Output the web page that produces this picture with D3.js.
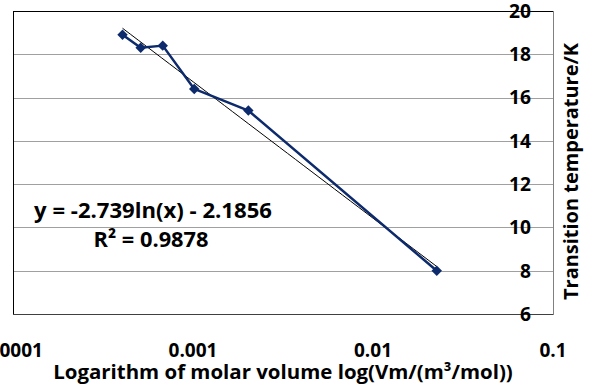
<!DOCTYPE html>
<html>
<head>
<meta charset="utf-8">
<script src="https://cdn.jsdelivr.net/npm/d3@7/dist/d3.min.js"></script>
<style>
  html, body { margin: 0; padding: 0; background: #fff; }
  svg { display: block; }
  text { font-family: "Open Sans", "Noto Sans", sans-serif; font-weight: 700; fill: #000; }
</style>
</head>
<body>
<svg id="chart" width="593" height="387"></svg>
<script>
// Molar volume (m^3/mol) and transition temperature (K)
const molarVolume = [0.000406, 0.000512, 0.000679, 0.001016, 0.00203, 0.0226];
const transitionTemp = [18.9, 18.3, 18.4, 16.4, 15.4, 8.0];

// Logarithmic fit: y = a ln(x) + b
const fitA = -2.739;
const fitB = -2.1856;
const fitR2 = 0.9878;

const xTicks = [0.0001, 0.001, 0.01, 0.1];
const xTickLabels = ["0.0001", "0.001", "0.01", "0.1"];
const yTicks = [6, 8, 10, 12, 14, 16, 18, 20];

const xTitle = "Logarithm of molar volume log(Vm/(m\u00B3/mol))";
const yTitle = "Transition temperature/K";

const svg = d3.select("#chart");
const plotL = 13, plotR = 553, plotT = 11, plotB = 314;

const x = d3.scaleLog().domain([0.0001, 0.1]).range([plotL, plotR]);
const y = d3.scaleLinear().domain([6, 20]).range([plotB, plotT]);

// Size a text so that it spans the given width
function fitSize(text, width) {
  const t = svg.append("text").attr("font-size", 20).text(text);
  const w = t.node().getComputedTextLength();
  t.remove();
  return 20 * width / w;
}

// Horizontal gridlines
svg.append("g")
  .selectAll("line")
  .data(yTicks.filter(v => v !== 6 && v !== 20))
  .join("line")
  .attr("x1", plotL).attr("x2", plotR)
  .attr("y1", d => Math.round(y(d)) + 0.5)
  .attr("y2", d => Math.round(y(d)) + 0.5)
  .attr("stroke", "#a0a0a0")
  .attr("stroke-width", 1);

// Plot frame
svg.append("line").attr("x1", plotL).attr("x2", plotR)
  .attr("y1", plotT + 0.5).attr("y2", plotT + 0.5).attr("stroke", "#000");
svg.append("line").attr("x1", plotL + 0.5).attr("x2", plotL + 0.5)
  .attr("y1", plotT).attr("y2", plotB).attr("stroke", "#000");
svg.append("line").attr("x1", plotL).attr("x2", plotR)
  .attr("y1", plotB + 0.5).attr("y2", plotB + 0.5).attr("stroke", "#404040");
svg.append("line").attr("x1", plotR + 0.5).attr("x2", plotR + 0.5)
  .attr("y1", plotT).attr("y2", plotB + 1).attr("stroke", "#808080");

// Right-hand value axis labels
const yTickSize = fitSize("20", 22);
svg.append("g")
  .selectAll("text")
  .data(yTicks)
  .join("text")
  .attr("x", 531)
  .attr("y", d => y(d))
  .attr("dy", "0.36em")
  .attr("text-anchor", "end")
  .attr("font-size", yTickSize)
  .text(d => d);

// Log-scale axis labels
const xTickSize = fitSize("0.001", 49);
svg.append("g")
  .selectAll("text")
  .data(xTicks)
  .join("text")
  .attr("x", d => x(d))
  .attr("y", 357)
  .attr("text-anchor", "middle")
  .attr("font-size", xTickSize)
  .text((d, i) => xTickLabels[i]);

// Axis titles
svg.append("text")
  .attr("x", 283).attr("y", 379)
  .attr("text-anchor", "middle")
  .attr("font-size", fitSize(xTitle, 460))
  .text(xTitle);

svg.append("text")
  .attr("transform", "translate(578,171.5) rotate(-90)")
  .attr("text-anchor", "middle")
  .attr("font-size", fitSize(yTitle, 257))
  .text(yTitle);

// Trendline across the data range
const xExtent = d3.extent(molarVolume);
const trendPts = d3.range(0, 41).map(i => {
  const lv = Math.log10(xExtent[0]) + (Math.log10(xExtent[1]) - Math.log10(xExtent[0])) * i / 40;
  const xv = Math.pow(10, lv);
  return [xv, fitA * Math.log(xv) + fitB];
});
svg.append("path")
  .datum(trendPts)
  .attr("fill", "none")
  .attr("stroke", "#000")
  .attr("stroke-width", 1)
  .attr("d", d3.line().x(d => x(d[0])).y(d => y(d[1])));

// Data series
const pts = molarVolume.map((v, i) => [v, transitionTemp[i]]);
const navy = "#0c2a6c";
svg.append("path")
  .datum(pts)
  .attr("fill", "none")
  .attr("stroke", navy)
  .attr("stroke-width", 2.5)
  .attr("stroke-linejoin", "round")
  .attr("d", d3.line().x(d => x(d[0])).y(d => y(d[1])));

svg.append("g")
  .selectAll("path")
  .data(pts)
  .join("path")
  .attr("transform", d => `translate(${x(d[0])},${y(d[1])})`)
  .attr("d", d3.symbol(d3.symbolDiamond2, 70)())
  .attr("fill", navy);

// Fit equation
const eqText = `y = ${fitA}ln(x) - ${Math.abs(fitB)}`;
const r2Text = `R\u00B2 = ${fitR2}`;
svg.append("text")
  .attr("x", 153).attr("y", 218)
  .attr("text-anchor", "middle")
  .attr("font-size", fitSize(eqText, 238))
  .text(eqText);
svg.append("text")
  .attr("x", 151).attr("y", 246.5)
  .attr("text-anchor", "middle")
  .attr("font-size", fitSize(r2Text, 115))
  .text(r2Text);
</script>
</body>
</html>
